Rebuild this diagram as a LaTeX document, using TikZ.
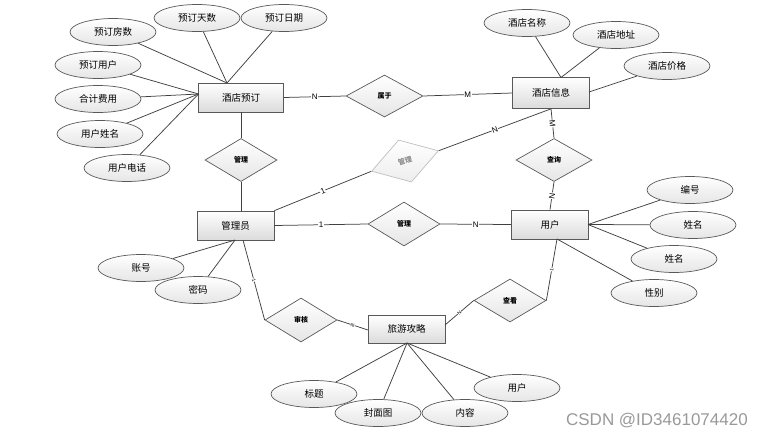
\documentclass[tikz,border=0pt]{standalone}
\usepackage{fontspec}
\setmainfont{Noto Sans CJK SC}
\newfontfamily\latinf{Liberation Sans}
\usetikzlibrary{shapes.geometric,shadings}
\begin{document}
\begin{tikzpicture}[x=1pt,y=-1pt,
  line/.style={draw=black!75, line width=0.75pt},
  ent/.style={rectangle, draw=black!65, line width=0.7pt, top color=white, bottom color=black!14, minimum width=77pt, minimum height=29pt, inner sep=0pt, font=\fontsize{9.5}{10}\selectfont},
  attr/.style={ellipse, draw=black!65, line width=0.7pt, top color=white, bottom color=black!10, minimum width=86pt, minimum height=27pt, inner sep=0pt, font=\fontsize{9.5}{10}\selectfont},
  rel/.style={diamond, draw=black!65, line width=0.7pt, top color=white, bottom color=black!10, minimum width=72pt, minimum height=43pt, inner sep=0pt, font=\fontsize{7}{7}\selectfont\bfseries},
  card/.style={font=\latinf\fontsize{8}{8}\selectfont, fill=white, inner sep=0.5pt},
  tinyl/.style={font=\latinf\fontsize{5}{5}\selectfont, fill=white, inner sep=0.3pt, sloped},
]
\useasboundingbox (0,0) rectangle (762,434);

% entities
\node[ent, minimum width=85pt] (hb) at (241,97.5) {酒店预订};
\node[ent, minimum height=31pt] (hi) at (551,93) {酒店信息};
\node[ent] (adm) at (235.5,225.5) {管理员};
\node[ent] (usr) at (550,224.5) {用户};
\node[ent, minimum height=28pt] (gl) at (406.5,329) {旅游攻略};

% attributes
\node[attr] (a1) at (113,32) {预订房数};
\node[attr] (a2) at (197,18) {预订天数};
\node[attr] (a3) at (284,18) {预订日期};
\node[attr] (a4) at (98,65) {预订用户};
\node[attr] (a5) at (98,99) {合计费用};
\node[attr] (a6) at (100,134) {用户姓名};
\node[attr] (a7) at (127,168) {用户电话};
\node[attr] (b1) at (527,23) {酒店名称};
\node[attr] (b2) at (616,35) {酒店地址};
\node[attr] (b3) at (667,66) {酒店价格};
\node[attr] (c1) at (690,190) {编号};
\node[attr] (c2) at (693,225) {姓名};
\node[attr] (c3) at (674,259) {姓名};
\node[attr] (c4) at (654,293) {性别};
\node[attr] (d1) at (141,268) {账号};
\node[attr] (d2) at (198,290) {密码};
\node[attr] (e1) at (314,394) {标题};
\node[attr] (e2) at (378,413) {封面图};
\node[attr] (e3) at (465,413) {内容};
\node[attr] (e4) at (517,388) {用户};

% relationships
\node[rel, minimum width=77pt, minimum height=42pt] (r1) at (384.5,96) {属于};
\node[rel] (r2) at (241,160) {管理};
\node[rel, draw=black!25, text=black!45, bottom color=black!7, rotate=17, minimum width=70pt, minimum height=44pt] (r3) at (405,161) {管理};
\node[rel, minimum height=44pt] (r4) at (404,224) {管理};
\node[rel, minimum width=76pt] (r5) at (554,160) {查询};
\node[rel, minimum height=44pt] (r6) at (301,320) {审核};
\node[rel] (r7) at (510,300.5) {查看};

% anchor points
\coordinate (hbT) at (227,83);
\coordinate (hbL) at (198.5,94);
\coordinate (hiT) at (561,77.5);
\coordinate (hiR) at (589,92);
\coordinate (usrR) at (588,224.5);
\coordinate (usrB) at (557,239);
\coordinate (admB) at (235,240);
\coordinate (admB2) at (243,240);
\coordinate (r2adm) at (241,211);
\coordinate (glL) at (368,330);
\coordinate (glR) at (445,325);
\coordinate (glB) at (407,343);

% attribute links
\foreach \a in {a1,a2,a3} \draw[line] (\a) -- (hbT);
\foreach \a in {a4,a5,a6,a7} \draw[line] (\a) -- (hbL);
\foreach \a in {b1,b2} \draw[line] (\a) -- (hiT);
\draw[line] (b3) -- (hiR);
\foreach \a in {c1,c2,c3} \draw[line] (\a) -- (usrR);
\draw[line] (c4) -- (usrB);
\foreach \a in {d1,d2} \draw[line] (\a) -- (admB);
\foreach \a in {e1,e2,e3,e4} \draw[line] (\a) -- (glB);

% relationship links
\draw[line] (hb.south) -- (r2.north);
\draw[line] (r2.south) -- (r2adm);
\draw[line] (hb.east) -- node[card]{N} (r1.west);
\draw[line] (r1.east) -- node[card]{M} (hi.west);
\draw[line] (adm.north east) -- node[card, sloped]{1} (r3.west);
\draw[line] (r3.east) -- node[card, sloped]{N} (hi.south);
\draw[line] (hi.south) -- node[card, sloped]{M} (r5.north);
\draw[line] (r5.south) -- node[card, sloped]{N} (usr.north);
\draw[line] (adm.east) -- node[card]{1} (r4.west);
\draw[line] (r4.east) -- node[card]{N} (usr.west);
\draw[line] (admB2) -- node[tinyl]{1} (r6.west);
\draw[line] (r6.east) -- node[tinyl]{N} (glL);
\draw[line] (glR) -- node[tinyl]{N} (r7.west);
\draw[line] (r7.east) -- node[tinyl]{1} (usrB);

% watermark
\node[anchor=base east, font=\latinf\fontsize{17}{17}\selectfont, text=black!40, inner sep=0pt] (wm) at (748,425) {CSDN @ID3461074420};
\end{tikzpicture}
\end{document}
